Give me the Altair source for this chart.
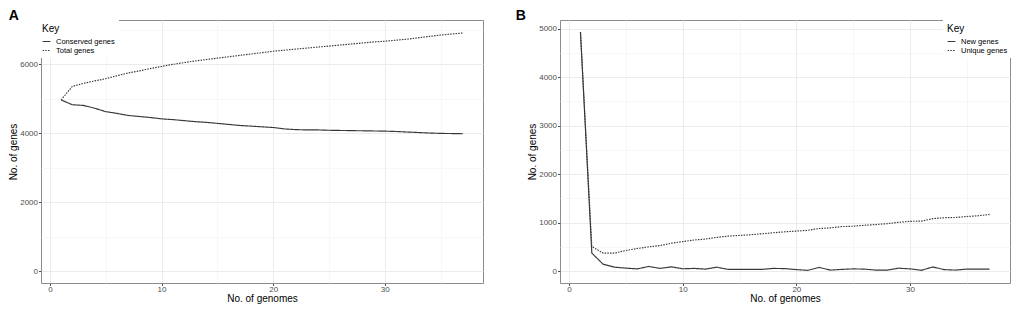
import altair as alt
import pandas as pd

genomes = list(range(1, 38))

conserved_genes = [4960, 4820, 4800, 4720, 4620, 4570, 4510, 4480, 4450, 4410,
                   4390, 4360, 4330, 4310, 4280, 4250, 4220, 4200, 4180, 4160,
                   4120, 4100, 4090, 4090, 4080, 4075, 4070, 4065, 4060, 4055,
                   4045, 4030, 4015, 4000, 3990, 3985, 3980]
total_genes = [4960, 5350, 5440, 5510, 5575, 5660, 5740, 5800, 5870, 5930,
               5990, 6040, 6090, 6130, 6170, 6210, 6250, 6290, 6330, 6370,
               6400, 6430, 6460, 6490, 6520, 6550, 6580, 6610, 6640, 6660,
               6690, 6720, 6760, 6800, 6840, 6870, 6900]
new_genes = [4930, 370, 140, 80, 60, 45, 95, 55, 87, 47,
             55, 40, 80, 34, 35, 36, 36, 55, 50, 30,
             15, 75, 20, 35, 45, 40, 20, 20, 60, 45,
             15, 85, 30, 20, 40, 40, 40]
unique_genes = [4930, 505, 370, 370, 425, 465, 500, 525, 575, 607,
                640, 660, 695, 720, 735, 750, 770, 790, 810, 825,
                840, 877, 890, 917, 925, 945, 958, 978, 1005, 1025,
                1030, 1080, 1100, 1105, 1125, 1140, 1168]

keys_a = ["Conserved genes", "Total genes"]
keys_b = ["New genes", "Unique genes"]

x_major = [0, 10, 20, 30]
x_minor = [5, 15, 25, 35]
ya_major = [0, 2000, 4000, 6000]
ya_minor = [1000, 3000, 5000, 7000]
yb_major = [0, 1000, 2000, 3000, 4000, 5000]
yb_minor = [500, 1500, 2500, 3500, 4500]

FONT = "Liberation Sans"
LINE = "#383838"


def frame(xs, s1, s2, keys):
    return pd.DataFrame({
        "genomes": xs + xs,
        "genes": s1 + s2,
        "Key": [keys[0]] * len(xs) + [keys[1]] * len(xs),
    })


def panel(df, keys, ydom, ymaj, ymin, letter, lx, ly, w, h, ldx):
    xs = alt.Scale(domain=[-0.8, 38.8], nice=False, zero=False)
    ys = alt.Scale(domain=ydom, nice=False, zero=False)
    grid = alt.Chart(df).mark_line(opacity=0).encode(
        x=alt.X("genomes:Q", scale=xs,
                axis=alt.Axis(values=x_minor, grid=True, gridColor="#f3f3f3",
                              gridWidth=0.7, labels=False, ticks=False,
                              domain=False, title=None, orient="bottom")),
        y=alt.Y("genes:Q", scale=ys,
                axis=alt.Axis(values=ymin, grid=True, gridColor="#f3f3f3",
                              gridWidth=0.7, labels=False, ticks=False,
                              domain=False, title=None, orient="left")),
    )
    lines = alt.Chart(df).mark_line(color=LINE, strokeWidth=1.15).encode(
        x=alt.X("genomes:Q", scale=xs,
                axis=alt.Axis(values=x_major, grid=True, gridColor="#ebebeb",
                              gridWidth=1, title="No. of genomes",
                              orient="bottom", format="d",
                              labelPadding=0, titlePadding=0)),
        y=alt.Y("genes:Q", scale=ys,
                axis=alt.Axis(values=ymaj, grid=True, gridColor="#ebebeb",
                              gridWidth=1, title="No. of genes",
                              orient="left", format="d", titlePadding=1)),
        strokeDash=alt.StrokeDash(
            "Key:N",
            scale=alt.Scale(domain=keys, range=[[1, 0], [1.5, 1.2]]),
            legend=alt.Legend(
                title="Key", orient="none", legendX=lx, legendY=ly,
                fillColor="white", padding=4, titleFontSize=10,
                titleFontWeight="normal", titleFont=FONT, titleColor="#000",
                labelFont=FONT, labelFontSize=7.5, labelColor="#000",
                symbolType="stroke", symbolStrokeColor=LINE,
                symbolStrokeWidth=1.2, symbolSize=60, rowPadding=1,
                titlePadding=3, labelOffset=5,
            ),
        ),
        order="genomes:Q",
    )
    return alt.layer(grid, lines).resolve_axis(
        x="independent", y="independent"
    ).properties(
        width=w, height=h,
        title=alt.TitleParams(letter, anchor="start", frame="bounds",
                              fontSize=14, fontWeight="bold", font=FONT,
                              color="#000", offset=-3, dx=ldx),
    )


dfa = frame(genomes, conserved_genes, total_genes, keys_a)
dfb = frame(genomes, new_genes, unique_genes, keys_b)

WA, WB, H = 442, 450, 263
pa = panel(dfa, keys_a, [-346, 7276], ya_major, ya_minor, "A", -3, 0, WA, H, 0)
pb = panel(dfb, keys_b, [-246, 5176], yb_major, yb_minor, "B", WB - 67, 0, WB, H, -12)

chart = alt.hconcat(pa, pb, spacing=31).resolve_scale(
    strokeDash="independent"
).resolve_legend(
    strokeDash="independent"
).properties(
    padding={"left": 0, "top": 0, "right": 0, "bottom": 0}
).configure_view(
    stroke="#8c8c8c", strokeWidth=1
).configure_axis(
    labelFont=FONT, labelFontSize=8, labelColor="#4d4d4d",
    tickColor="#4d4d4d", tickSize=2.5, labelPadding=1,
    titleFont=FONT, titleFontSize=10, titleFontWeight="normal",
    titleColor="#000", titlePadding=1, domain=False,
)

chart.save("out.html", embed_options={"renderer": "svg", "actions": False})
